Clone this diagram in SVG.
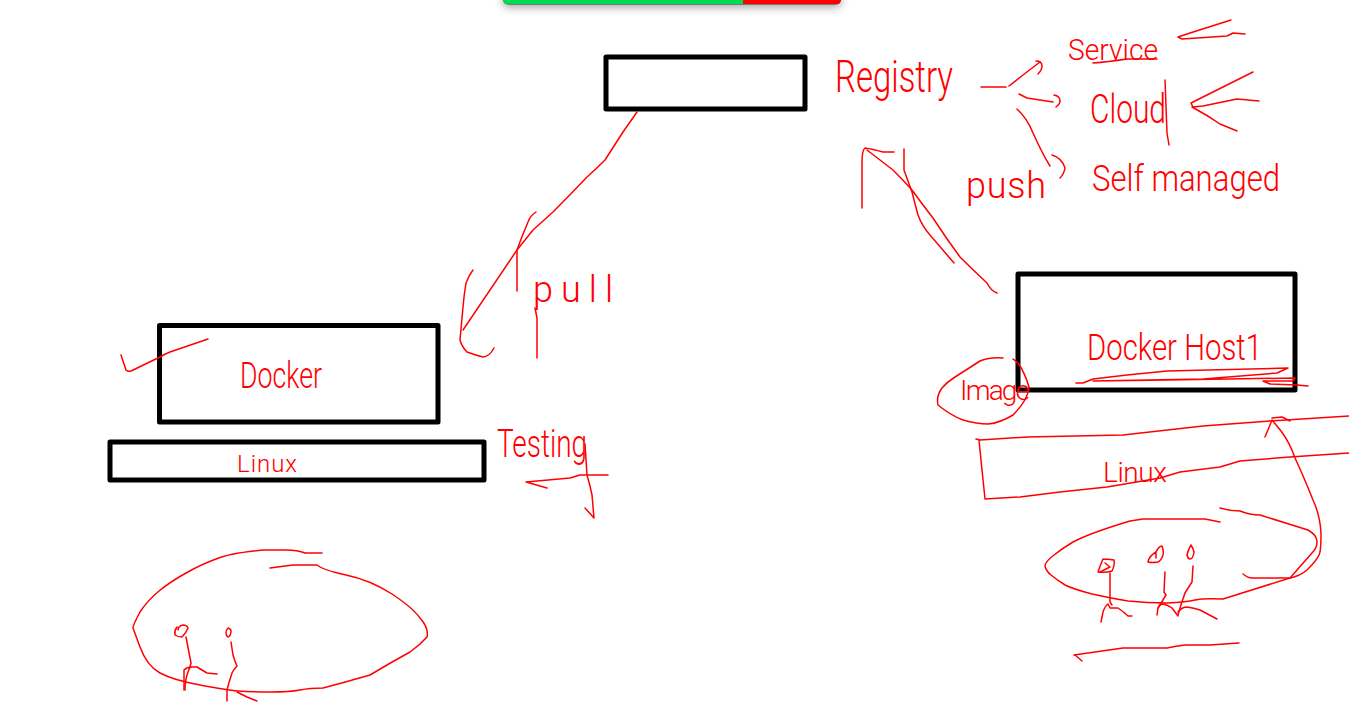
<svg xmlns="http://www.w3.org/2000/svg" width="1349" height="721" viewBox="0 0 1349 721">
<style>
.box{fill:#fff;stroke:#000;stroke-width:5;stroke-linejoin:round}
.ink{fill:none;stroke:#f00;stroke-width:1.5;stroke-linejoin:round;stroke-linecap:round}
.lbl{fill:#f00;font-family:"Roboto","Liberation Sans",sans-serif;font-weight:300}
</style>
<defs>
<filter id="sh" x="-10%" y="-100%" width="120%" height="400%"><feDropShadow dx="0" dy="3" stdDeviation="4" flood-color="#000" flood-opacity="0.35"/></filter>
<clipPath id="barclip"><path d="M503-10H841V-1Q841 4.500 835 4.500H509Q503 4.500 503-1Z"/></clipPath>
</defs>
<rect width="1349" height="721" fill="#fff"/>
<g id="progress-bar">
<path d="M503-10H841V-1Q841 4.500 835 4.500H509Q503 4.500 503-1Z" fill="#333" filter="url(#sh)"/>
<g clip-path="url(#barclip)"><rect x="503" y="-10" width="240" height="14" fill="#00dc50"/><rect x="743" y="-10" width="98" height="14" fill="#f00"/></g>
</g>
<g id="registry-box"><rect class="box" x="606" y="57" width="199" height="52"/></g>
<g id="docker-box"><rect class="box" x="159.500" y="325.500" width="278.500" height="96.500"/>
<text class="lbl" x="240" y="388" font-size="36" textLength="82" lengthAdjust="spacingAndGlyphs">Docker</text></g>
<g id="linux-box"><rect class="box" x="110" y="442" width="374" height="38"/>
<text class="lbl" x="237" y="472" font-size="24" textLength="60" lengthAdjust="spacing">Linux</text></g>
<g id="host-box"><rect class="box" x="1018" y="274" width="277" height="116"/>
<text class="lbl" x="1087" y="360" font-size="36" textLength="175" lengthAdjust="spacingAndGlyphs">Docker Host1</text></g>
<g id="registry-label"><text class="lbl" x="835" y="92" font-size="44" textLength="118" lengthAdjust="spacingAndGlyphs">Registry</text></g>
<g id="service-label"><text class="lbl" x="1068" y="60" font-size="30" textLength="90" lengthAdjust="spacingAndGlyphs">Service</text></g>
<g id="cloud-label"><text class="lbl" x="1090" y="123" font-size="40" textLength="76" lengthAdjust="spacingAndGlyphs">Cloud</text></g>
<g id="self-managed-label"><text class="lbl" x="1092" y="191" font-size="36" textLength="188" lengthAdjust="spacingAndGlyphs">Self managed</text></g>
<g id="push-label"><text class="lbl" x="966" y="198" font-size="36" textLength="80" lengthAdjust="spacing">push</text></g>
<g id="pull-label"><text class="lbl" x="533" y="302" font-size="36" textLength="80" lengthAdjust="spacing">pull</text></g>
<g id="testing-label"><text class="lbl" x="497" y="457" font-size="38" textLength="90" lengthAdjust="spacingAndGlyphs">Testing</text></g>
<g id="image-label"><text class="lbl" x="960" y="400" font-size="28" textLength="70" lengthAdjust="spacing">Image</text></g>
<g id="linux-right-label"><text class="lbl" x="1103" y="482" font-size="28" textLength="64" lengthAdjust="spacing">Linux</text></g>
<g id="connectors">
<polyline class="ink" points="981,87 1006,87"/>
<polyline class="ink" points="1009,86 1023,75 1040,62"/>
<path class="ink" d="M1036 61Q1042 61 1042 66Q1042 70 1038 74"/>
<polyline class="ink" points="1019,94 1027,98 1053,102"/>
<path class="ink" d="M1054 95Q1060 96 1060 101Q1060 104 1056 107"/>
<path class="ink" d="M1017 109Q1027 118 1033 133Q1042 153 1050 166"/>
<path class="ink" d="M1052 155Q1062 158 1065 168Q1064 174 1060 178"/>
<path class="ink" d="M1093 63Q1107 62 1127 59H1157"/>
<polyline class="ink" points="1231,20 1190,33 1178,37 1182,39 1227,36 1233,33 1245,34"/>
<polyline class="ink" points="1253,72 1191,103 1193,107 1203,106 1237,99 1259,101"/>
<path class="ink" d="M1192 107Q1207 115 1220 124L1237 131"/>
<polyline class="ink" points="1165,80 1167,133 1169,145"/>
<path class="ink" d="M862 208V163Q862 150 865 148Q872 149 883 152H894"/>
<path class="ink" d="M867 150Q880 160 893 170Q903 180 912 190Q922 204 933 218Q946 238 960 257Q973 270 987 283Q991 291 997 293"/>
<path class="ink" d="M904 149V170Q908 181 912 192Q915 204 918 215Q922 226 930 235L954 263"/>
<path class="ink" d="M637 112Q630 122 623 132Q614 146 605 160Q596 169 587 177Q570 195 553 212Q543 221 533 230Q525 240 517 250L463 330"/>
<path class="ink" d="M473 270Q469 275 466 283Q464 295 463 307L460 340Q462 347 467 352Q475 355 483 357Q489 357 494 348"/>
<path class="ink" d="M536 212Q530 216 528 222Q522 236 517 250V291"/>
<polyline class="ink" points="537,358 537,318 535,308"/>
<path class="ink" d="M121 355L126 370Q128 372 131 371L160 357Q165 354 170 352L208 339"/>
<polyline class="ink" points="608,475 580,475 570,478 526,482 547,488"/>
<path class="ink" d="M585 444L587 475Q590 485 592 495L594 518L585 508"/>
<polyline class="ink" points="1076,383 1083,383 1093,379 1127,375 1167,371 1288,368 1277,373 1203,379 1093,381 1167,380 1295,378 1293,381 1263,381 1270,384 1297,385 1308,386"/>
<path class="ink" d="M1003 358Q990 357 980 361Q963 372 955 377Q947 382 942 388Q936 396 938 405Q950 415 963 420Q977 424 988 424Q1000 423 1013 415Q1028 400 1029 387Q1025 373 1018 363L1013 359"/>
<polyline class="ink" points="976,439 980,440 1027,437 1123,435 1203,426 1270,421 1349,416"/>
<polyline class="ink" points="979,440 982,470 985,499 1020,497 1060,492 1107,487 1160,478 1180,472 1220,467 1240,461 1290,457 1349,453"/>
<path class="ink" d="M1243 574Q1248 578 1252 578H1290Q1300 576 1307 570Q1317 560 1319 555Q1321 552 1321 533Q1320 515 1313 500Q1303 475 1295 458Q1290 443 1281 431L1272 420L1265 437"/>
<polyline class="ink" points="1272,418 1282,417 1290,421"/>
<path class="ink" d="M1220 522L1205 519H1143L1130 521Q1090 533 1073 542Q1063 548 1054 555Q1045 562 1045 566Q1046 571 1051 575Q1057 580 1065 585Q1073 589 1092 594Q1110 598 1128 601Q1147 603 1167 603Q1187 602 1195 600Q1203 598 1223 599L1290 578L1312 553Q1317 548 1317 542Q1317 535 1308 530L1260 515Q1250 515 1240 511Q1230 511 1220 508"/>
<path class="ink" d="M1103 559Q1100 566 1098 572Q1106 573 1112 571Q1115 565 1114 560Q1108 559 1103 559"/>
<polyline class="ink" points="1105,563 1110,567 1100,572"/>
<polyline class="ink" points="1110,573 1110,602 1112,605"/>
<path class="ink" d="M1101 622L1103 612Q1105 606 1108 604L1110 608H1118Q1124 612 1128 616H1132"/>
<path class="ink" d="M1156 552Q1159 546 1162 546Q1164 552 1163 555Q1161 561 1158 562Q1152 563 1148 562Q1149 556 1156 552V558"/>
<polyline class="ink" points="1165,572 1164,592 1166,595 1158,608 1157,615"/>
<path class="ink" d="M1158 608Q1160 604 1163 604Q1168 605 1172 608L1178 616"/>
<path class="ink" d="M1191 545Q1188 550 1187 555Q1188 559 1190 559Q1193 559 1194 552Q1193 548 1191 545"/>
<path class="ink" d="M1193 566L1192 582Q1188 588 1185 593Q1181 604 1178 615"/>
<path class="ink" d="M1178 612Q1182 607 1187 607Q1194 608 1200 610L1217 619"/>
<path class="ink" d="M1074 655L1123 648H1167Q1176 646 1185 645H1210L1239 643"/>
<polyline class="ink" points="1075,655 1082,661"/>
<path class="ink" d="M322 553H305Q298 550 285 550H263Q230 553 216 559Q202 564 186 573Q170 582 159 591Q148 600 140 612Q133 625 133 628L140 647Q147 666 160 673Q173 680 200 685Q227 690 238 691Q250 692 270 692Q290 692 300 690Q310 688 323 688Q346 682 370 675Q390 663 410 652Q420 645 427 637Q429 628 420 618Q413 608 392 594Q370 580 346 575Q323 570 317 565H293L270 568"/>
<path class="ink" d="M177 627Q174 631 175 635Q178 637 182 637Q186 633 188 628Q187 625 183 625Q178 626 178 630"/>
<path class="ink" d="M186 637L191 663Q190 668 188 672Q185 680 185 690"/>
<path class="ink" d="M184 690V670Q187 667 192 667H197Q202 670 207 673L217 674"/>
<path class="ink" d="M228 628Q226 630 226 633Q226 636 228 637Q231 636 231 631Q231 629 228 628"/>
<path class="ink" d="M231 642L233 655Q235 662 237 666Q234 669 232 673Q229 682 227 690V701"/>
<polyline class="ink" points="237,692 247,697 257,701"/>
</g>
</svg>
